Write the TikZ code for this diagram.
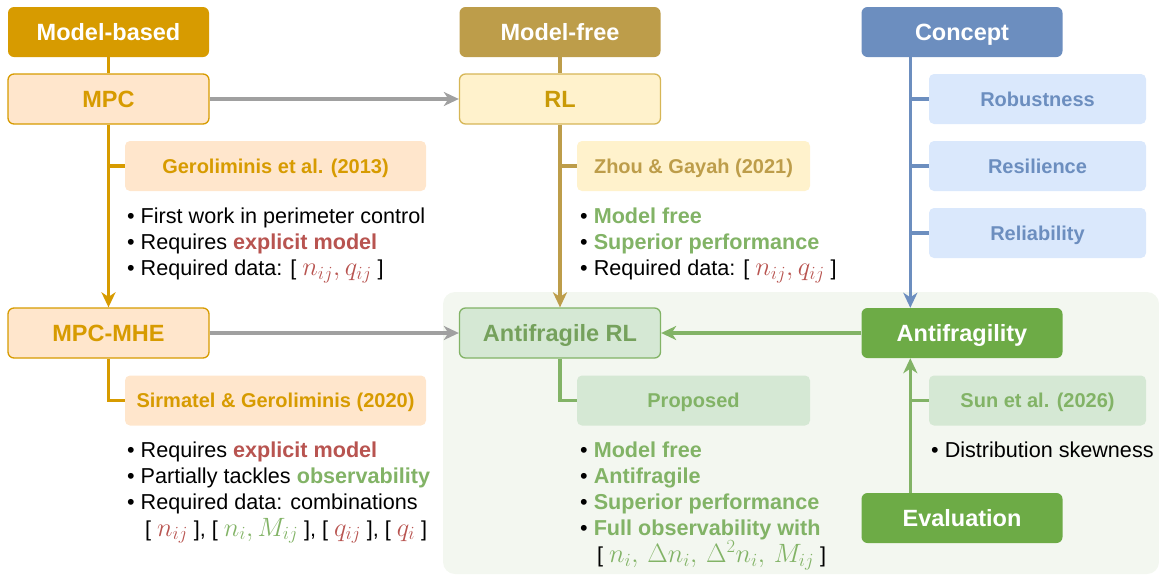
\documentclass[tikz,border=0pt]{standalone}
\usepackage{fix-cm}
\usepackage[no-math]{fontspec}
\setmainfont{Liberation Sans}
\usetikzlibrary{arrows.meta,calc}

% palette
\definecolor{mbdark}{HTML}{D79B00}
\definecolor{mblight}{HTML}{FFE6CC}
\definecolor{mfdark}{HTML}{BD9D4A}
\definecolor{mfline}{HTML}{D6B656}
\definecolor{mflight}{HTML}{FFF2CC}
\definecolor{mftext}{HTML}{C99A06}
\definecolor{cpdark}{HTML}{6C8EBF}
\definecolor{cplight}{HTML}{DAE8FC}
\definecolor{gndark}{HTML}{6DAB46}
\definecolor{gnline}{HTML}{82B366}
\definecolor{gnlight}{HTML}{D5E8D4}
\definecolor{gnzone}{HTML}{F3F7F0}
\definecolor{hlred}{HTML}{B85450}
\definecolor{linkgray}{HTML}{A0A0A0}

% larger math inside the bullet text
\newcommand\mth[1]{{\fontsize{26.5}{26}\selectfont$#1$}}

\begin{document}
\begin{tikzpicture}[x=1pt,y=-1pt,
  hdr/.style={rectangle, rounded corners=6pt, minimum width=201pt, minimum height=50pt,
    inner sep=0pt, text height=16.8pt, text depth=0pt, text=white,
    font=\fontsize{23.5}{28}\selectfont\bfseries},
  mainbox/.style={rectangle, rounded corners=6pt, minimum width=201pt, minimum height=50pt,
    inner sep=0pt, text height=16.8pt, text depth=0pt, line width=1.3pt,
    font=\fontsize{23.5}{28}\selectfont\bfseries},
  refbox/.style={rectangle, rounded corners=5pt, minimum height=50pt,
    inner sep=0pt, text height=14.3pt, text depth=0pt,
    font=\fontsize{20}{24}\selectfont\bfseries},
  bul/.style={anchor=base west, inner sep=0pt, font=\fontsize{21.6}{26}\selectfont},
  link/.style={line width=3.2pt},
  arr/.style={-{Stealth[length=15pt,width=14pt,inset=4.5pt]}}
]
\useasboundingbox (0,0) rectangle (1159,574);

% shaded zone of the proposed approach
\fill[gnzone, rounded corners=12pt] (443,292) rectangle (1159,574);

% column heads
\node[hdr, fill=mbdark] (mb) at (108.5,32) {Model-based};
\node[hdr, fill=mfdark] (mf) at (560,32) {Model-free};
\node[hdr, fill=cpdark] (cp) at (962,32) {Concept};

% methods
\node[mainbox, fill=mblight, draw=mbdark, text=mbdark] (mpc) at (108.5,99) {MPC};
\node[mainbox, fill=mflight, draw=mfline, text=mftext] (rl) at (560,99) {RL};
\node[mainbox, fill=mblight, draw=mbdark, text=mbdark] (mhe) at (108.5,333) {MPC-MHE};
\node[mainbox, fill=gnlight, draw=gnline, text=gnline!90!black] (arl) at (560,333) {Antifragile RL};
\node[hdr, fill=gndark] (af) at (962,333) {Antifragility};
\node[hdr, fill=gndark] (ev) at (962,518) {Evaluation};

% references and concepts
\node[refbox, fill=mblight, text=mbdark, minimum width=301pt] (gero) at (275.5,166) {Geroliminis et al. (2013)};
\node[refbox, fill=mflight, text=mfdark, minimum width=233pt] (zhou) at (693.5,166) {Zhou \& Gayah (2021)};
\node[refbox, fill=cplight, text=cpdark, minimum width=217pt] (rob) at (1037.5,99) {Robustness};
\node[refbox, fill=cplight, text=cpdark, minimum width=217pt] (res) at (1037.5,166) {Resilience};
\node[refbox, fill=cplight, text=cpdark, minimum width=217pt] (rel) at (1037.5,233) {Reliability};
\node[refbox, fill=mblight, text=mbdark, minimum width=301pt] (sirm) at (275.5,400.5) {Sirmatel \& Geroliminis (2020)};
\node[refbox, fill=gnlight, text=gnline, minimum width=233pt] (prop) at (693.5,400.5) {Proposed};
\node[refbox, fill=gnlight, text=gnline, minimum width=217pt] (sun) at (1037.5,400.5) {Sun et al. (2026)};

% bullet notes
\node[bul] (g1) at (127,223.2) {• First work in perimeter control};
\node[bul] (g2) at (127,249.3) {• Requires \textcolor{hlred}{\bfseries explicit model}};
\node[bul] (g3) at (127,275.4) {• Required data: [ \textcolor{hlred}{\mth{n_{ij}, q_{ij}}} ]};

\node[bul] (z1) at (580,223.2) {• \textcolor{gnline}{\bfseries Model free}};
\node[bul] (z2) at (580,249.3) {• \textcolor{gnline}{\bfseries Superior performance}};
\node[bul] (z3) at (580,275.4) {• Required data: [ \textcolor{hlred}{\mth{n_{ij}, q_{ij}}} ]};

\node[bul] (s1) at (127,457.2) {• Requires \textcolor{hlred}{\bfseries explicit model}};
\node[bul] (s2) at (127,483.4) {• Partially tackles \textcolor{gnline}{\bfseries observability}};
\node[bul] (s3) at (127,509.6) {• Required data: combinations};
\node[bul] (s4) at (145,536) {[ \textcolor{hlred}{\mth{n_{ij}}} ], [ \textcolor{gnline}{\mth{n_i, M_{ij}}} ], [ \textcolor{hlred}{\mth{q_{ij}}} ], [ \textcolor{hlred}{\mth{q_i}} ]};

\node[bul] (p1) at (580,457.2) {• \textcolor{gnline}{\bfseries Model free}};
\node[bul] (p2) at (580,483.4) {• \textcolor{gnline}{\bfseries Antifragile}};
\node[bul] (p3) at (580,509.6) {• \textcolor{gnline}{\bfseries Superior performance}};
\node[bul] (p4) at (580,535.8) {• \textcolor{gnline}{\bfseries Full observability with}};
\node[bul] (p5) at (597,562.5) {[ \textcolor{gnline}{\mth{n_i,\, \Delta n_i,\, \Delta^2 n_i,\, M_{ij}}} ]};

\node[bul] (u1) at (931,457.2) {• Distribution skewness};

% model-based column
\draw[link, mbdark] (mb) -- (mpc);
\draw[link, mbdark, arr] (mpc) -- (mhe);
\draw[link, mbdark] (gero.west) -- (gero.west -| mpc.south);
\draw[link, mbdark] (mhe.south) |- (sirm.west);

% model-free column
\draw[link, mfdark] (mf) -- (rl);
\draw[link, mfdark, arr] (rl) -- (arl);
\draw[link, mfdark] (zhou.west) -- (zhou.west -| rl.south);
\draw[link, gnline] (arl.south) |- (prop.west);

% concept column
\coordinate (cptrunk) at ($(cp.south west)+(49,0)$);
\coordinate (aftop) at ($(af.north west)+(49,0)$);
\coordinate (afbot) at ($(af.south west)+(49,0)$);
\coordinate (evtop) at ($(ev.north west)+(49,0)$);
\draw[link, cpdark, arr] (cptrunk) -- (aftop);
\draw[link, cpdark] (rob.west) -- (rob.west -| cptrunk);
\draw[link, cpdark] (res.west) -- (res.west -| cptrunk);
\draw[link, cpdark] (rel.west) -- (rel.west -| cptrunk);
\draw[link, gnline, arr] (evtop) -- (afbot);
\draw[link, gnline] (sun.west) -- (sun.west -| evtop);
\draw[link, gnline, arr] (af) -- (arl);

% cross links
\draw[link, linkgray, arr] (mpc) -- (rl);
\draw[link, linkgray, arr] (mhe) -- (arl);
\end{tikzpicture}
\end{document}
